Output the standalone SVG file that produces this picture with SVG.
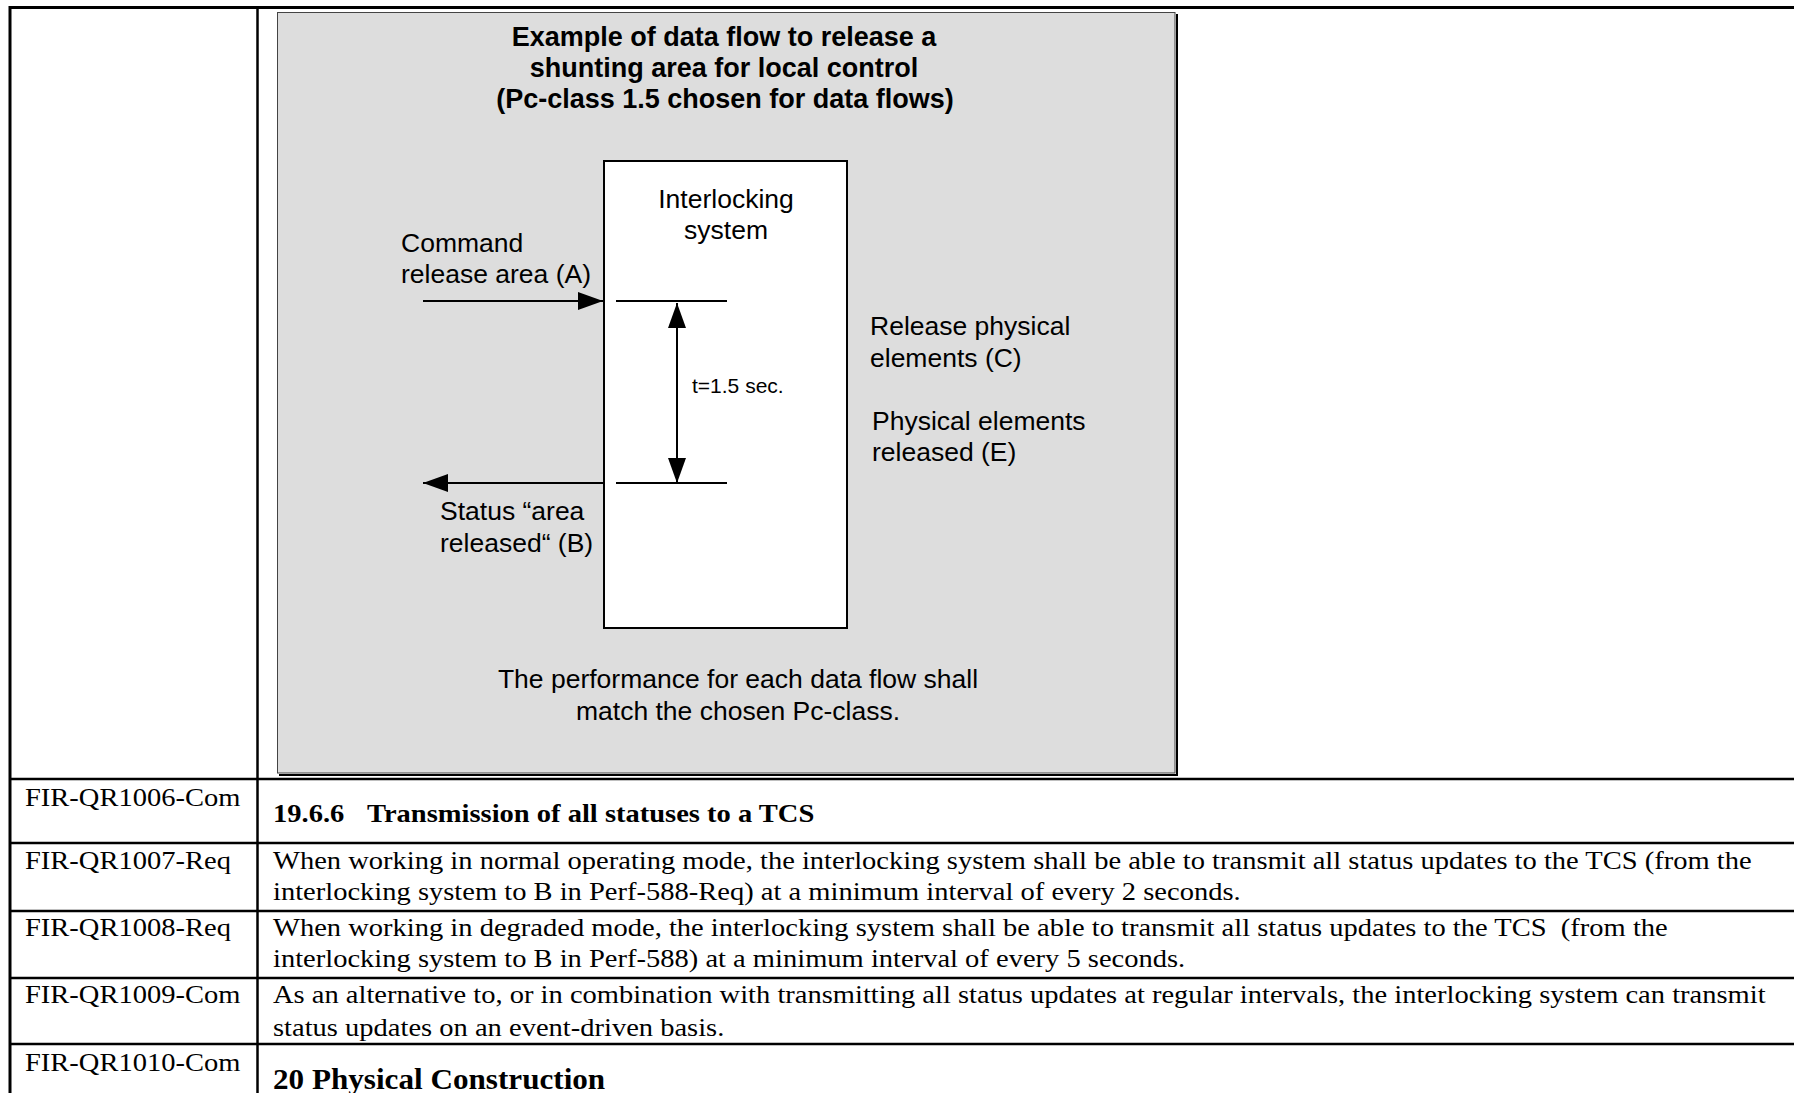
<svg xmlns="http://www.w3.org/2000/svg" width="1794" height="1093" viewBox="0 0 1794 1093">
<defs>
<style>
.tbl{stroke:#000;stroke-width:2.5;fill:none}
.ln{stroke:#000;stroke-width:2;fill:none}
.d{font-family:"Liberation Sans",Arial,sans-serif;font-size:26.5px;fill:#000}
.db{font-family:"Liberation Sans",Arial,sans-serif;font-size:27px;font-weight:bold;fill:#000}
.t{font-family:"Liberation Serif","Times New Roman",serif;font-size:26px;fill:#000}
.tb{font-family:"Liberation Serif","Times New Roman",serif;font-weight:bold;fill:#000}
</style>
<marker id="ah" markerUnits="userSpaceOnUse" markerWidth="26" markerHeight="20" refX="25" refY="9" orient="auto-start-reverse" viewBox="0 0 26 18">
<path d="M0,0 L25,9 L0,18 z" fill="#000"/>
</marker>
</defs>
<rect x="0" y="0" width="1794" height="1093" fill="#fff"/>

<g id="table">
<line class="tbl" x1="9" y1="7.5" x2="1794" y2="7.5" style="stroke-width:3"/>
<line class="tbl" x1="10" y1="6" x2="10" y2="1093" style="stroke-width:3"/>
<line class="tbl" x1="257.5" y1="6" x2="257.5" y2="1093"/>
<line class="tbl" x1="9" y1="779" x2="1794" y2="779"/>
<line class="tbl" x1="9" y1="843" x2="1794" y2="843"/>
<line class="tbl" x1="9" y1="911" x2="1794" y2="911"/>
<line class="tbl" x1="9" y1="978" x2="1794" y2="978"/>
<line class="tbl" x1="9" y1="1044" x2="1794" y2="1044"/>
</g>

<g id="figure-frame">
<rect x="277.5" y="12.5" width="897.5" height="760.5" fill="#dddddd" stroke="#444" stroke-width="1"/>
<polyline points="1177,14 1177,775 279,775" fill="none" stroke="#000" stroke-width="2"/>
</g>

<g id="title">
<text class="db" x="724" y="46" text-anchor="middle">Example of data flow to release a</text>
<text class="db" x="724" y="77" text-anchor="middle">shunting area for local control</text>
<text class="db" x="725" y="108" text-anchor="middle">(Pc-class 1.5 chosen for data flows)</text>
</g>

<g id="interlocking-system">
<rect x="604" y="161" width="243" height="467" fill="#fff" stroke="#000" stroke-width="2"/>
<text class="d" x="726" y="208" text-anchor="middle">Interlocking</text>
<text class="d" x="726" y="239" text-anchor="middle">system</text>
<line class="ln" x1="616" y1="301" x2="727" y2="301"/>
<line class="ln" x1="616" y1="483" x2="727" y2="483"/>
<text class="d" x="692" y="393" style="font-size:21px">t=1.5 sec.</text>
</g>

<g id="label-command">
<text class="d" x="401" y="252">Command</text>
<text class="d" x="401" y="283">release area (A)</text>
</g>
<g id="label-status">
<text class="d" x="440" y="520">Status “area</text>
<text class="d" x="440" y="552">released“ (B)</text>
</g>
<g id="label-release">
<text class="d" x="870" y="335">Release physical</text>
<text class="d" x="870" y="367">elements (C)</text>
</g>
<g id="label-released">
<text class="d" x="872" y="430">Physical elements</text>
<text class="d" x="872" y="461">released (E)</text>
</g>
<g id="note">
<text class="d" x="738" y="688" text-anchor="middle">The performance for each data flow shall</text>
<text class="d" x="738" y="720" text-anchor="middle">match the chosen Pc-class.</text>
</g>

<g id="connectors">
<line class="ln" x1="423" y1="301" x2="603" y2="301" marker-end="url(#ah)"/>
<line class="ln" x1="603" y1="483" x2="423" y2="483" marker-end="url(#ah)"/>
<line class="ln" x1="677" y1="303" x2="677" y2="483" marker-start="url(#ah)" marker-end="url(#ah)"/>
</g>

<g id="ids" transform="translate(25 0) scale(1.097 1)">
<text class="t" x="0" y="806">FIR-QR1006-Com</text>
<text class="t" x="0" y="869">FIR-QR1007-Req</text>
<text class="t" x="0" y="936">FIR-QR1008-Req</text>
<text class="t" x="0" y="1003">FIR-QR1009-Com</text>
<text class="t" x="0" y="1071">FIR-QR1010-Com</text>
</g>

<g id="texts" transform="translate(273 0) scale(1.097 1)">
<text class="tb" x="0" y="822" style="font-size:26px">19.6.6</text>
<text class="tb" x="85.7" y="822" style="font-size:26px">Transmission of all statuses to a TCS</text>
<text class="t" x="0" y="869">When working in normal operating mode, the interlocking system shall be able to transmit all status updates to the TCS (from the</text>
<text class="t" x="0" y="900">interlocking system to B in Perf-588-Req) at a minimum interval of every 2 seconds.</text>
<text class="t" x="0" y="936" xml:space="preserve">When working in degraded mode, the interlocking system shall be able to transmit all status updates to the TCS  (from the</text>
<text class="t" x="0" y="967">interlocking system to B in Perf-588) at a minimum interval of every 5 seconds.</text>
<text class="t" x="0" y="1003">As an alternative to, or in combination with transmitting all status updates at regular intervals, the interlocking system can transmit</text>
<text class="t" x="0" y="1036">status updates on an event-driven basis.</text>
<text class="tb" x="0" y="1089" style="font-size:28.4px">20 Physical Construction</text>
</g>
</svg>
